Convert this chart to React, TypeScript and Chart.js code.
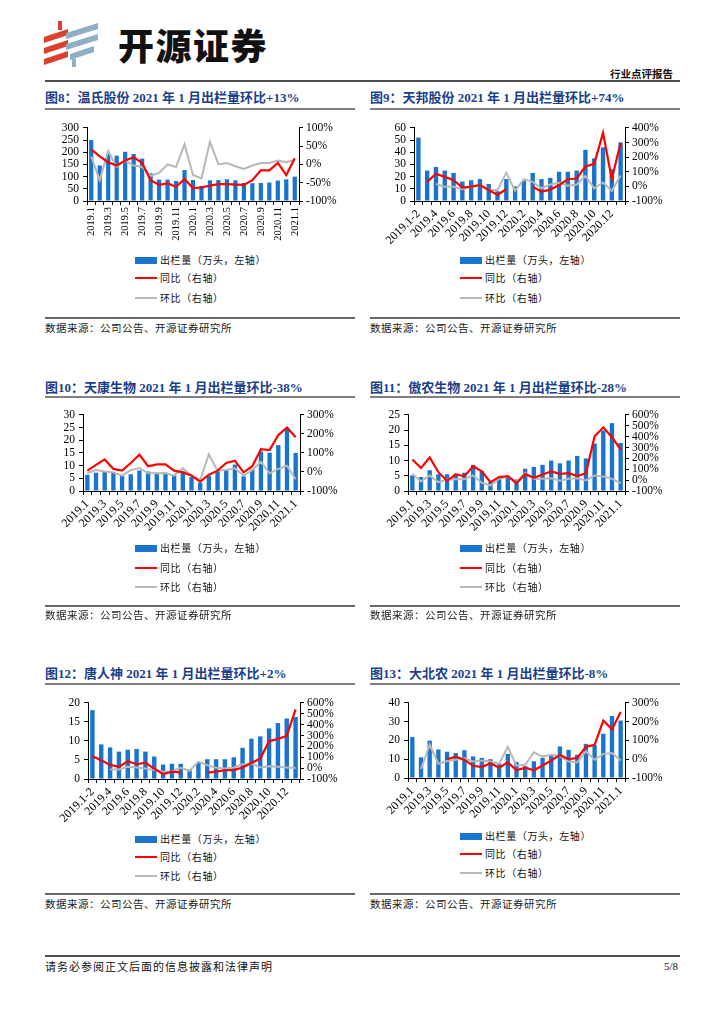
import React, { useEffect, useRef } from "react";
import { Chart, registerables } from "chart.js";
Chart.register(...registerables);

// ---------- categories ----------
const catsMonthly = ["2019.1","2019.2","2019.3","2019.4","2019.5","2019.6","2019.7","2019.8","2019.9","2019.10","2019.11","2019.12","2020.1","2020.2","2020.3","2020.4","2020.5","2020.6","2020.7","2020.8","2020.9","2020.10","2020.11","2020.12","2021.1"];
const catsMerged = ["2019.1-2","2019.3","2019.4","2019.5","2019.6","2019.7","2019.8","2019.9","2019.10","2019.11","2019.12","2020.1","2020.2","2020.3","2020.4","2020.5","2020.6","2020.7","2020.8","2020.9","2020.10","2020.11","2020.12","2021.1"];

// ---------- 图8 温氏股份 ----------
const wsBars = [250,146,195,186,202,193,174,114,88,88,82,127,86,62,85,86,89,85,74,73,74,76,84,89,100];
const wsYoy = [41,22,6,-3,11,20,4,-43,-56,-52,-61,-40,-65,-63,-58,-54,-54,-55,-56,-43,-16,-16,4,-29,17];
const wsMom = [22,-43,37,-7,11,-3,-7,-31,-23,0,-7,55,-29,-38,62,0,4,-5,-12,-3,4,4,11,6,13];

// ---------- 图9 天邦股份 ----------
const tbBars = [52,25,28,25,23,16,17,18,14,8,18,12,17,23,18,19,24,24,25,42,35,44,26,48];
const tbYoy = [null,31,87,65,42,-9,-2,9,-25,-58,-18,null,null,-2,-36,-22,9,49,54,136,154,366,49,299];
const tbMom = [null,null,16,-2,-2,-20,-2,9,-25,-25,94,-31,49,31,-13,13,25,4,13,71,-13,27,-31,74];

// ---------- 图10 天康生物 ----------
const tkBars = [6.4,7.2,7.7,7.2,5.9,6.6,8.1,7.7,7.2,7.2,6.2,7.7,5.5,3.3,6,8,8.4,10.4,5.8,8.5,15.6,15.1,18.1,24.5,15];
const tkYoy = [7,37,66,16,7,47,91,30,40,40,7,-2,-19,-51,-14,7,47,59,-2,30,120,115,194,234,182];
const tkMom = [-5,10,3,-2,-19,10,21,-7,-7,-5,-19,19,-19,-42,93,7,10,19,-19,10,54,-7,16,33,-38];

// ---------- 图11 傲农生物 ----------
const anBars = [5.1,4.6,6.8,5.5,5.5,5.7,6,8.6,6.6,3,4.5,4.6,3.8,7.3,7.9,8.6,10,9.1,10,11.5,10.7,15.6,19.9,22.3,15.8];
const anYoy = [190,113,208,73,-6,52,37,128,80,-18,28,37,-28,55,21,52,80,58,64,37,64,404,486,394,281];
const anMom = [58,-12,43,-18,6,9,9,43,-24,-49,12,34,-18,67,12,12,18,-6,12,18,-3,43,34,12,-28];

// ---------- 图12 唐人神 ----------
const trBars = [18.1,9.1,8.3,7.2,7.7,7.9,7.2,5.9,3.8,4,4,2.5,4.2,5.2,5.2,5.2,5.7,8.2,10.6,11.2,13.3,14.7,15.9,16.3];
const trYoy = [109,73,30,12,63,36,51,-6,-54,-33,-39,null,null,-42,-33,-18,-18,6,48,88,248,269,296,541];
const trMom = [null,null,-12,-12,12,6,-3,-18,-33,-30,3,-24,60,27,3,-3,6,36,42,6,18,12,6,2];

// ---------- 图13 大北农 ----------
const dbBars = [21.8,11,19.9,15.2,14,13.3,14.8,11.5,10.7,10,7.7,12.8,8.6,6.3,8.9,10.7,12.4,16.8,15,12.4,18.2,17.5,23.6,33,30.6];
const dbYoy = [null,null,null,null,0,14,-3,-35,-42,-21,-45,-17,-59,-45,-59,-33,-7,23,0,7,66,77,206,159,252];
const dbMom = [null,-52,77,-24,-10,-3,5,-12,-7,-12,-24,66,-35,-30,37,14,24,17,-12,-17,42,-3,28,33,-7];

const legendLabels = ["出栏量（万头，左轴）", "同比（右轴）", "环比（右轴）"];
const sourceText = "数据来源：公司公告、开源证券研究所";

const SERIF = '"Liberation Serif", "Times New Roman", serif';
const CJK = '"Liberation Serif", "Noto Sans CJK SC", serif';
const BAR_BLUE = "#1874CD";
const RED = "#FF0000";
const GREY = "#B8B8B8";

type Box = { left: number; right: number; top: number; bottom: number };

type ChartProps = {
  x: number;
  cats: string[];
  bars: (number | null)[];
  yoy: (number | null)[];
  mom: (number | null)[];
  leftMax: number;
  leftStep: number;
  rightMin: number;
  rightMax: number;
  rightStep: number;
  rotation: number;
  xFont: number;
  plot: Box;
};

function ComboChart(p: ChartProps) {
  const ref = useRef<HTMLCanvasElement>(null);
  const canvasLeft = p.x;
  const canvasWidth = 310;
  const canvasTop = p.plot.top - 10;
  const xH = 50;
  const canvasHeight = p.plot.bottom + xH - canvasTop;
  useEffect(() => {
    if (!ref.current) return;
    const tickFont = { family: SERIF, size: 11.5 };
    const chart = new Chart(ref.current, {
      type: "bar",
      data: {
        labels: p.cats,
        datasets: [
          { type: "line", label: legendLabels[1], data: p.yoy, yAxisID: "y1", borderColor: RED, backgroundColor: RED, borderWidth: 2.2, pointRadius: 0, tension: 0, spanGaps: false, order: 0 } as any,
          { type: "line", label: legendLabels[2], data: p.mom, yAxisID: "y1", borderColor: GREY, backgroundColor: GREY, borderWidth: 2, pointRadius: 0, tension: 0, spanGaps: false, order: 1 } as any,
          { type: "bar", label: legendLabels[0], data: p.bars, yAxisID: "y", backgroundColor: BAR_BLUE, barPercentage: 0.5, categoryPercentage: 1, order: 2 } as any,
        ],
      },
      options: {
        responsive: false,
        animation: false,
        devicePixelRatio: 1,
        layout: { padding: { top: p.plot.top - canvasTop, left: 0, right: 0, bottom: 0 } },
        plugins: { legend: { display: false }, tooltip: { enabled: false } },
        scales: {
          x: {
            grid: { display: true, drawOnChartArea: false, drawTicks: true, tickLength: 4, color: "#000", offset: true },
            border: { display: true, color: "#000", width: 1 },
            ticks: {
              autoSkip: false,
              maxRotation: p.rotation,
              minRotation: p.rotation,
              padding: 2,
              color: "#000",
              font: { family: SERIF, size: p.xFont },
              callback: (_v: any, i: number) => (i % 2 === 0 ? p.cats[i] : ""),
            },
            afterFit: (s: any) => { s.height = canvasTop + canvasHeight - p.plot.bottom; },
          },
          y: {
            position: "left",
            min: 0,
            max: p.leftMax,
            grid: { display: true, drawOnChartArea: false, drawTicks: true, tickLength: 4, color: "#000" },
            border: { display: true, color: "#000", width: 1 },
            ticks: { autoSkip: false, stepSize: p.leftStep, padding: 4, color: "#000", font: tickFont },
            afterFit: (s: any) => { s.width = p.plot.left - canvasLeft; },
          },
          y1: {
            position: "right",
            min: p.rightMin,
            max: p.rightMax,
            grid: { display: true, drawOnChartArea: false, drawTicks: true, tickLength: 4, color: "#000" },
            border: { display: true, color: "#000", width: 1 },
            ticks: { autoSkip: false, stepSize: p.rightStep, padding: 3, color: "#000", font: tickFont, callback: (v: any) => v + "%" },
            afterFit: (s: any) => { s.width = canvasLeft + canvasWidth - p.plot.right; },
          },
        },
      } as any,
    });
    return () => chart.destroy();
  }, []);
  return (
    <canvas
      ref={ref}
      width={canvasWidth}
      height={canvasHeight}
      style={{ position: "absolute", left: canvasLeft, top: canvasTop, width: canvasWidth, height: canvasHeight }}
    />
  );
}

function Text(props: { x: number; y: number; size: number; children: React.ReactNode; style?: React.CSSProperties }) {
  const lh = Math.round(props.size * 1.4);
  return (
    <div
      style={{
        position: "absolute",
        left: props.x,
        top: props.y - lh / 2,
        height: lh,
        lineHeight: lh + "px",
        fontSize: props.size,
        whiteSpace: "nowrap",
        ...props.style,
      }}
    >
      {props.children}
    </div>
  );
}

function HLine(props: { x: number; y: number; w: number; h: number; color: string }) {
  return <div style={{ position: "absolute", left: props.x, top: props.y - props.h / 2, width: props.w, height: props.h, background: props.color }} />;
}

type PanelProps = ChartProps & {
  title: string;
  titleY: number;
  underlineY: number;
  legendYs: number[];
  sourceLineY: number;
  sourceY: number;
};

function Panel(p: PanelProps) {
  const lx = p.x + 90;
  const tx = p.x + 115;
  const legendStyle: React.CSSProperties = { fontFamily: '"Noto Sans CJK SC", sans-serif', letterSpacing: "0.6px", color: "#111" };
  return (
    <>
      <Text x={p.x} y={p.titleY} size={13} style={{ fontFamily: CJK, fontWeight: 700, color: "#1B3F8B" }}>{p.title}</Text>
      <HLine x={p.x} y={p.underlineY} w={310} h={1.5} color="#808080" />
      <ComboChart {...p} />
      <div style={{ position: "absolute", left: lx, top: p.legendYs[0] - 3.5, width: 22, height: 7, background: BAR_BLUE }} />
      <Text x={tx} y={p.legendYs[0]} size={10} style={legendStyle}>{legendLabels[0]}</Text>
      <HLine x={lx} y={p.legendYs[1]} w={22} h={2.5} color={RED} />
      <Text x={tx} y={p.legendYs[1]} size={10} style={legendStyle}>{legendLabels[1]}</Text>
      <HLine x={lx} y={p.legendYs[2]} w={22} h={2.5} color={GREY} />
      <Text x={tx} y={p.legendYs[2]} size={10} style={legendStyle}>{legendLabels[2]}</Text>
      <HLine x={p.x} y={p.sourceLineY} w={310} h={1.5} color="#666" />
      <Text x={p.x} y={p.sourceY} size={10.5} style={{ fontFamily: '"Noto Sans CJK SC", sans-serif', letterSpacing: "0.5px", color: "#222" }}>{sourceText}</Text>
    </>
  );
}

function Logo() {
  return (
    <svg width={60} height={46} viewBox="0 0 60 46" style={{ position: "absolute", left: 42, top: 21 }}>
      <g fill="#D9412E">
        <polygon points="16,0 20,0 20,9 16,9" />
        <polygon points="2,16 26,8 26,14 2,22" />
        <polygon points="2,27 26,19 26,25 2,33" />
        <polygon points="2,38 26,30 26,36 2,44" />
      </g>
      <g fill="#8FAFC4">
        <polygon points="24,12 56,2 56,8 24,18" />
        <polygon points="24,23 56,13 56,19 24,29" />
        <polygon points="28,33 52,25 52,31 28,39" />
        <polygon points="30,38 34,38 34,46 30,46" />
      </g>
    </svg>
  );
}

export default function App() {
  return (
    <div style={{ position: "absolute", left: 0, top: 0, width: 724, height: 1024, background: "#fff", overflow: "hidden" }}>
      <Logo />
      <Text x={118} y={44} size={36} style={{ fontFamily: '"Noto Sans CJK SC", sans-serif', fontWeight: 900, letterSpacing: "1.5px", color: "#111" }}>开源证券</Text>
      <Text x={610} y={73} size={10.5} style={{ fontFamily: '"Noto Sans CJK SC", sans-serif', fontWeight: 700, color: "#111" }}>行业点评报告</Text>
      <HLine x={45} y={81} w={635} h={2} color="#4d4d4d" />

      <Panel
        x={45} title="图8：温氏股份 2021 年 1 月出栏量环比+13%" titleY={98} underlineY={109}
        cats={catsMonthly} bars={wsBars} yoy={wsYoy} mom={wsMom}
        leftMax={300} leftStep={50} rightMin={-100} rightMax={100} rightStep={50}
        rotation={90} xFont={10.5}
        plot={{ left: 87, right: 299, top: 127, bottom: 201 }}
        legendYs={[260, 278, 298]} sourceLineY={318} sourceY={327}
      />
      <Panel
        x={370} title="图9：天邦股份 2021 年 1 月出栏量环比+74%" titleY={98} underlineY={109}
        cats={catsMerged} bars={tbBars} yoy={tbYoy} mom={tbMom}
        leftMax={60} leftStep={10} rightMin={-100} rightMax={400} rightStep={100}
        rotation={45} xFont={12}
        plot={{ left: 414, right: 625, top: 127, bottom: 201 }}
        legendYs={[260, 278, 298]} sourceLineY={318} sourceY={327}
      />
      <Panel
        x={45} title="图10：天康生物 2021 年 1 月出栏量环比-38%" titleY={388} underlineY={397}
        cats={catsMonthly} bars={tkBars} yoy={tkYoy} mom={tkMom}
        leftMax={30} leftStep={5} rightMin={-100} rightMax={300} rightStep={100}
        rotation={45} xFont={12}
        plot={{ left: 83, right: 300, top: 414, bottom: 491 }}
        legendYs={[548, 568, 587]} sourceLineY={606} sourceY={614}
      />
      <Panel
        x={370} title="图11：傲农生物 2021 年 1 月出栏量环比-28%" titleY={388} underlineY={397}
        cats={catsMonthly} bars={anBars} yoy={anYoy} mom={anMom}
        leftMax={25} leftStep={5} rightMin={-100} rightMax={600} rightStep={100}
        rotation={45} xFont={12}
        plot={{ left: 408, right: 625, top: 414, bottom: 491 }}
        legendYs={[548, 568, 587]} sourceLineY={606} sourceY={614}
      />
      <Panel
        x={45} title="图12：唐人神 2021 年 1 月出栏量环比+2%" titleY={674} underlineY={684}
        cats={catsMerged} bars={trBars} yoy={trYoy} mom={trMom}
        leftMax={20} leftStep={5} rightMin={-100} rightMax={600} rightStep={100}
        rotation={45} xFont={12}
        plot={{ left: 88, right: 300, top: 702, bottom: 779 }}
        legendYs={[839, 857, 876]} sourceLineY={894} sourceY={903}
      />
      <Panel
        x={370} title="图13：大北农 2021 年 1 月出栏量环比-8%" titleY={674} underlineY={684}
        cats={catsMonthly} bars={dbBars} yoy={dbYoy} mom={dbMom}
        leftMax={40} leftStep={10} rightMin={-100} rightMax={300} rightStep={100}
        rotation={45} xFont={12}
        plot={{ left: 408, right: 625, top: 702, bottom: 778 }}
        legendYs={[836, 854, 873]} sourceLineY={894} sourceY={903}
      />

      <HLine x={45} y={956} w={635} h={2} color="#4d4d4d" />
      <Text x={45} y={966} size={11} style={{ fontFamily: '"Noto Sans CJK SC", sans-serif', letterSpacing: "1px", color: "#111" }}>请务必参阅正文后面的信息披露和法律声明</Text>
      <Text x={664} y={966} size={11} style={{ fontFamily: SERIF, color: "#111" }}>5/8</Text>
    </div>
  );
}
